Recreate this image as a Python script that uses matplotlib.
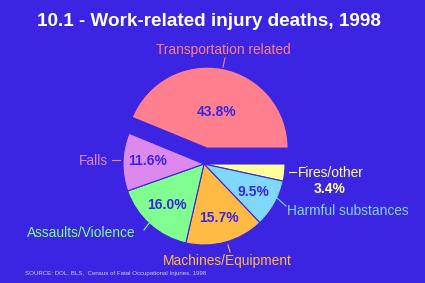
import matplotlib.pyplot as plt

# data
categories = ["Fires/other", "Harmful substances", "Machines/Equipment",
              "Assaults/Violence", "Falls", "Transportation related"]
shares = [3.4, 9.5, 15.7, 16.0, 11.6, 43.8]
colors = ["#FFFF99", "#80D8FF", "#FFBB44", "#80FF90", "#DD88EE", "#FF7F8F"]
explode_frac = [0, 0, 0, 0, 0, 0.2]

BG = "#3B25E2"
W, H = 425, 283
R = 81

fig = plt.figure(figsize=(W / 100, H / 100), dpi=100, facecolor=BG)
ax = fig.add_axes([0, 0, 1, 1])
ax.set_facecolor(BG)

# pie explode is in data units, so scale by radius
ax.pie(shares, colors=colors, explode=[e * R for e in explode_frac],
       startangle=0, counterclock=False,
       center=(204, H - 164), radius=R,
       wedgeprops=dict(edgecolor=BG, linewidth=0.8))
ax.set_xlim(0, W)
ax.set_ylim(0, H)
ax.set_aspect("equal")
ax.axis("off")

plt.rcParams["font.family"] = ["Liberation Sans", "DejaVu Sans"]

def py(y):
    return H - y

# percentages inside slices (pixel positions)
pct_pos = [(330, 189), (253, 192), (219, 218), (167, 205), (148, 161), (217, 112)]
for i, (v, (x, y)) in enumerate(zip(shares, pct_pos)):
    c = "#FFFF99" if i == 0 else BG
    ax.text(x, py(y), f"{v:.1f}%", color=c, fontsize=10, fontweight="bold",
            ha="center", va="center")

# category labels with leader lines
lab = [
    (298, 173, "left", (289, 172), (296, 172)),
    (287, 211, "left", (277, 198), (286, 206)),
    (227, 261, "center", (228, 245), (230, 252)),
    (81, 233, "center", (150, 222), (144, 230)),
    (108, 161, "right", (120, 160), (112, 160)),
    (223, 50, "center", (223, 67), (225, 58)),
]
for cat, col, (x, y, ha, p0, p1) in zip(categories, colors, lab):
    ax.text(x, py(y), cat, color=col, fontsize=9.9, ha=ha, va="center")
    ax.plot([p0[0], p1[0]], [py(p0[1]), py(p1[1])], color=col, lw=0.8)

ax.text(209, py(22), "10.1 - Work-related injury deaths, 1998", color="white",
        fontsize=13.6, fontweight="bold", ha="center", va="center")
ax.text(25, py(274), "SOURCE: DOL, BLS,  Census of Fatal Occupational Injuries, 1998",
        color="#D0D0F0", fontsize=4.4, ha="left", va="center")

fig.savefig("out.png", dpi=100, facecolor=BG)
